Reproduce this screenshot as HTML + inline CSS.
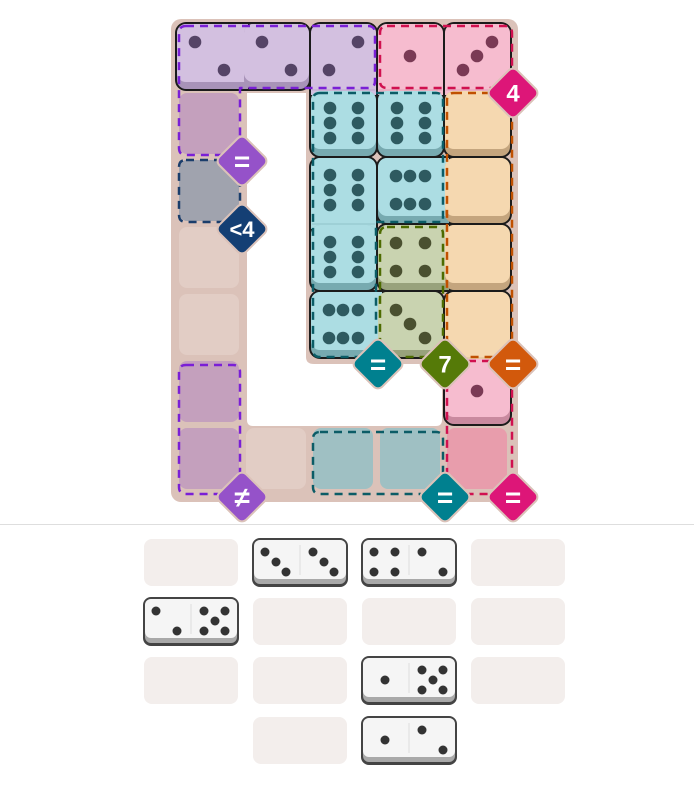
<!DOCTYPE html>
<html><head><meta charset="utf-8">
<style>
html,body{margin:0;padding:0;background:#fff;width:694px;height:797px;overflow:hidden}
svg{position:absolute;left:0;top:0}
text{font-family:"Liberation Sans",sans-serif;font-weight:bold;fill:#fff}
</style></head>
<body>
<svg id="s" width="694" height="797" viewBox="0 0 694 797">
<defs><clipPath id="top"><rect x="0" y="0" width="694" height="524"/></clipPath></defs>
<g id="board" clip-path="url(#top)">
 <rect x="171" y="19" width="347" height="483" rx="10" fill="#dbc2b9"/>
 <path d="M247,93 H306 V357 Q306,364 314,364 H442 V420 Q442,426 436,426 H253 Q247,426 247,420 Z" fill="#fff"/>
 <g id="cells"></g>
 <g id="regions" fill="none" stroke-width="2.5" stroke-dasharray="8,6"></g>
 <g id="badges"></g>
</g>
<line x1="0" y1="524.5" x2="694" y2="524.5" stroke="#dedede" stroke-width="1"/>
<g id="tray"></g>
</svg>
<script>
var NS="http://www.w3.org/2000/svg";
function el(p,t,a){var e=document.createElementNS(NS,t);for(var k in a)e.setAttribute(k,a[k]);p.appendChild(e);return e;}
var P={1:[[1,1]],"2a":[[0,0],[2,2]],"2b":[[2,0],[0,2]],"3a":[[0,0],[1,1],[2,2]],"3b":[[2,0],[1,1],[0,2]],
4:[[0,0],[2,0],[0,2],[2,2]],5:[[0,0],[2,0],[0,2],[2,2],[1,1]],
"6v":[[0,0],[2,0],[0,1],[2,1],[0,2],[2,2]],"6h":[[0,0],[1,0],[2,0],[0,2],[1,2],[2,2]]};
var cells=document.getElementById("cells");
function cx(c){return 178+67*c;} function cy(r){return 25+67*r;}
function empty(r,c,col){el(cells,"rect",{x:cx(c)+1,y:cy(r)+1,width:60,height:61,rx:8,fill:col});}
function tile(r,c,col,shade,p,pc,ext){
 var x=cx(c),y=cy(r);
 el(cells,"rect",{x:x-1,y:y-1,width:65,height:65,rx:9,fill:shade});
 el(cells,"rect",{x:x-1,y:y-1,width:65,height:58,rx:9,fill:col});
 if(ext=="h"){el(cells,"rect",{x:x+50,y:y-1,width:20,height:65,fill:shade});el(cells,"rect",{x:x+50,y:y-1,width:20,height:58,fill:col});}
 if(ext=="v"){el(cells,"rect",{x:x-1,y:y+45,width:65,height:25,fill:col});
   el(cells,"line",{x1:x,y1:y+65,x2:x+63,y2:y+65,stroke:shade,"stroke-width":1,opacity:0.5});}
 if(p){var xs=[x+17,x+31,x+46],ys=[y+17,y+31,y+45];
  if(p=="6v"){xs=[x+18,x+32,x+46];ys=[y+16,y+31,y+46];}
  P[p].forEach(function(q){el(cells,"circle",{cx:xs[q[0]],cy:ys[q[1]],r:6.3,fill:pc});});}
}
empty(1,0,"#c4a0bd");empty(2,0,"#a0a3ae");empty(3,0,"#e2cdc5");empty(4,0,"#e2cdc5");
empty(5,0,"#c4a0bd");empty(6,0,"#c4a0bd");empty(6,1,"#e2cdc5");
empty(6,2,"#9fc0c3");empty(6,3,"#9fc0c3");empty(6,4,"#e89dac");
var dk="#1b1b1b";
[[0,0,2,1],[0,2,1,2],[0,3,1,2],[0,4,1,2],[2,2,1,2],[2,3,2,1],[3,3,2,1],[4,2,2,1],[4,4,1,2]].forEach(function(d){
 el(cells,"rect",{x:cx(d[1])-3,y:cy(d[0])-3,width:67*d[2]+2,height:67*d[3]+2,rx:11,fill:dk});});
var pu="#d3c0e0",pus="#a893b8",pup="#554466";
var pk="#f6bccf",pks="#c98a9f",pkp="#7a3a55";
var te="#acdde3",tes="#77aab0",tep="#2e5a60";
var orc="#f5d8b0",ors="#c4a57e";
var gr="#c9d3b0",grs="#98a27c",grp="#4a5030";
tile(0,0,pu,pus,"2a",pup,"h");tile(0,1,pu,pus,"2a",pup);tile(0,2,pu,pus,"2b",pup,"v");
tile(0,3,pk,pks,1,pkp,"v");tile(0,4,pk,pks,"3b",pkp,"v");
tile(1,2,te,tes,"6v",tep);tile(1,3,te,tes,"6v",tep);tile(1,4,orc,ors);
tile(2,2,te,tes,"6v",tep,"v");tile(2,3,te,tes,"6h",tep,"h");tile(2,4,orc,ors);
tile(3,2,te,tes,"6v",tep);tile(3,3,gr,grs,4,grp,"h");tile(3,4,orc,ors);
tile(4,2,te,tes,"6h",tep,"h");tile(4,3,gr,grs,"3a",grp);tile(4,4,orc,ors,null,null,"v");
tile(5,4,pk,pks,1,pkp);
var rg=document.getElementById("regions");
function path(d,c){el(rg,"path",{d:d,stroke:c,"stroke-linejoin":"round"});}
path("M186,26 H368 Q375,26 375,33 V81 Q375,88 368,88 H240 V148 Q240,155 233,155 H186 Q179,155 179,148 V33 Q179,26 186,26 Z","#7a1fd6");
path("M186,160 H233 Q240,160 240,167 V215 Q240,222 233,222 H186 Q179,222 179,215 V167 Q179,160 186,160 Z","#1a3d6b");
path("M387,26 H505 Q512,26 512,33 V81 Q512,88 505,88 H387 Q380,88 380,81 V33 Q380,26 387,26 Z","#d0104f");
path("M320,93 H436 Q443,93 443,100 V222 H376 V350 Q376,357 369,357 H320 Q313,357 313,350 V100 Q313,93 320,93 Z","#0b5c66");
path("M454,93 H505 Q512,93 512,100 V350 Q512,357 505,357 H454 Q447,357 447,350 V100 Q447,93 454,93 Z","#c05000");
path("M387,227 H436 Q443,227 443,234 V350 Q443,357 436,357 H387 Q380,357 380,350 V234 Q380,227 387,227 Z","#4d6b00");
path("M454,361 H505 Q512,361 512,368 V487 Q512,494 505,494 H454 Q447,494 447,487 V368 Q447,361 454,361 Z","#d0104f");
path("M186,365 H233 Q240,365 240,372 V487 Q240,494 233,494 H186 Q179,494 179,487 V372 Q179,365 186,365 Z","#7a1fd6");
path("M320,432 H436 Q443,432 443,439 V487 Q443,494 436,494 H320 Q313,494 313,487 V439 Q313,432 320,432 Z","#0b5c66");
var bg=document.getElementById("badges");
function badge(x,y,col,txt,fs){
 var g=el(bg,"g",{});
 el(g,"rect",{x:x-19,y:y-19,width:38,height:38,rx:6,fill:col,stroke:"#dbc2b9","stroke-width":2,transform:"rotate(45 "+x+" "+y+")"});
 var t=el(g,"text",{x:x,y:y+(fs*0.36),"text-anchor":"middle","font-size":fs});t.textContent=txt;
}
badge(513,93,"#dd1678","4",24);
badge(242,161,"#9552c9","=",28);
badge(242,229,"#143f74","<4",22);
badge(378,364,"#00808f","=",28);
badge(445,364,"#557a08","7",24);
badge(513,364,"#d2590c","=",28);
badge(242,497,"#9552c9","≠",28);
badge(445,497,"#00808f","=",28);
badge(513,497,"#dd1678","=",28);
var tr=document.getElementById("tray");
var xs=[144,253,362,471],ys=[539,598,657,717];
[[0,0],[0,3],[1,1],[1,2],[1,3],[2,0],[2,1],[2,3],[3,1]].forEach(function(s){
 el(tr,"rect",{x:xs[s[1]],y:ys[s[0]],width:94,height:47,rx:8,fill:"#f3eeec"});});
function dom(r,c,a,b){
 var x=xs[c]-1,y=ys[r]-1;
 el(tr,"rect",{x:x,y:y,width:96,height:49,rx:8,fill:"#444"});
 el(tr,"rect",{x:x+2,y:y+2,width:92,height:44,rx:6,fill:"#a9a9a9"});
 el(tr,"rect",{x:x+2,y:y+2,width:92,height:39,rx:6,fill:"#f5f5f5"});
 el(tr,"line",{x1:x+48,y1:y+7,x2:x+48,y2:y+37,stroke:"#ddd","stroke-width":1});
 [a,b].forEach(function(p,i){var hx=x+48*i;var px=[hx+13,hx+24,hx+34],py=[y+14,y+24,y+34];
  P[p].forEach(function(q){el(tr,"circle",{cx:px[q[0]],cy:py[q[1]],r:4.5,fill:"#333"});});});
}
dom(0,1,"3a","3a");dom(0,2,4,"2a");dom(1,0,"2a",5);dom(2,2,1,5);dom(3,2,1,"2a");
</script>
</body></html>
